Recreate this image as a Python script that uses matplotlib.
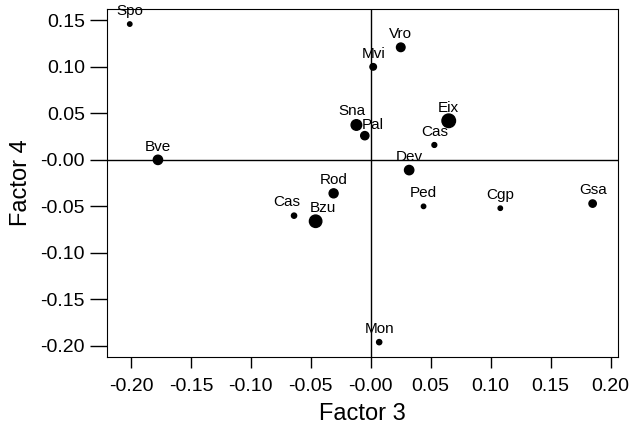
import matplotlib.pyplot as plt

plt.rcParams['font.family'] = ['Liberation Sans', 'DejaVu Sans']

# site labels and scores on factors 3 and 4
labels = ['Spo', 'Bve', 'Vro', 'Mvi', 'Sna', 'Pal', 'Eix', 'Cas', 'Dev',
          'Rod', 'Ped', 'Cgp', 'Gsa', 'Cas', 'Bzu', 'Mon']
factor3 = [-0.201, -0.1775, 0.025, 0.002, -0.012, -0.005, 0.065, 0.053, 0.032,
           -0.031, 0.044, 0.108, 0.185, -0.064, -0.046, 0.007]
factor4 = [0.146, 0.000, 0.121, 0.100, 0.0375, 0.026, 0.042, 0.016, -0.011,
           -0.036, -0.050, -0.052, -0.047, -0.060, -0.066, -0.196]
# relative point weight (marker area)
weights = [10, 45, 38, 22, 58, 35, 95, 12, 45, 42, 10, 10, 28, 14, 80, 14]

xticks = [-0.20, -0.15, -0.10, -0.05, 0.0, 0.05, 0.10, 0.15, 0.20]
yticks = [-0.20, -0.15, -0.10, -0.05, 0.0, 0.05, 0.10, 0.15]

fig = plt.figure(figsize=(6.33, 4.37), dpi=100)
ax = fig.add_axes([0.169, 0.183, 0.807, 0.796])

ax.axhline(0, color='black', lw=1.0)
ax.axvline(0, color='black', lw=1.0)
ax.scatter(factor3, factor4, s=weights, color='black', zorder=3)
# small nudges where labels crowd each other
nudge = {'Pal': (6, 8), 'Sna': (-3, 10)}
for i, (lab, x, y) in enumerate(zip(labels, factor3, factor4)):
    dx, dy = nudge.get(lab, (0, 9.5))
    if i == 13:
        dx = -5
    if lab == 'Bzu':
        dx = 5
    ax.annotate(lab, (x, y), xytext=(dx, dy), textcoords='offset points',
                ha='center', va='center', fontsize=11)

ax.set_xlim(-0.22, 0.206)
ax.set_ylim(-0.212, 0.162)
ax.set_xticks(xticks)
ax.set_yticks(yticks)
ax.set_xticklabels(['%.2f' % t if t != 0 else '-0.00' for t in xticks])
ax.set_yticklabels(['%.2f' % t if t != 0 else '-0.00' for t in yticks])
ax.tick_params(direction='out', width=1, labelsize=14)
ax.tick_params(axis='x', length=8, pad=7)
ax.tick_params(axis='y', length=12, pad=4)
ax.set_xlabel('Factor 3', fontsize=17, labelpad=6)
ax.set_ylabel('Factor 4', fontsize=17, labelpad=6)

plt.savefig('out.png', dpi=100)
plt.close()
